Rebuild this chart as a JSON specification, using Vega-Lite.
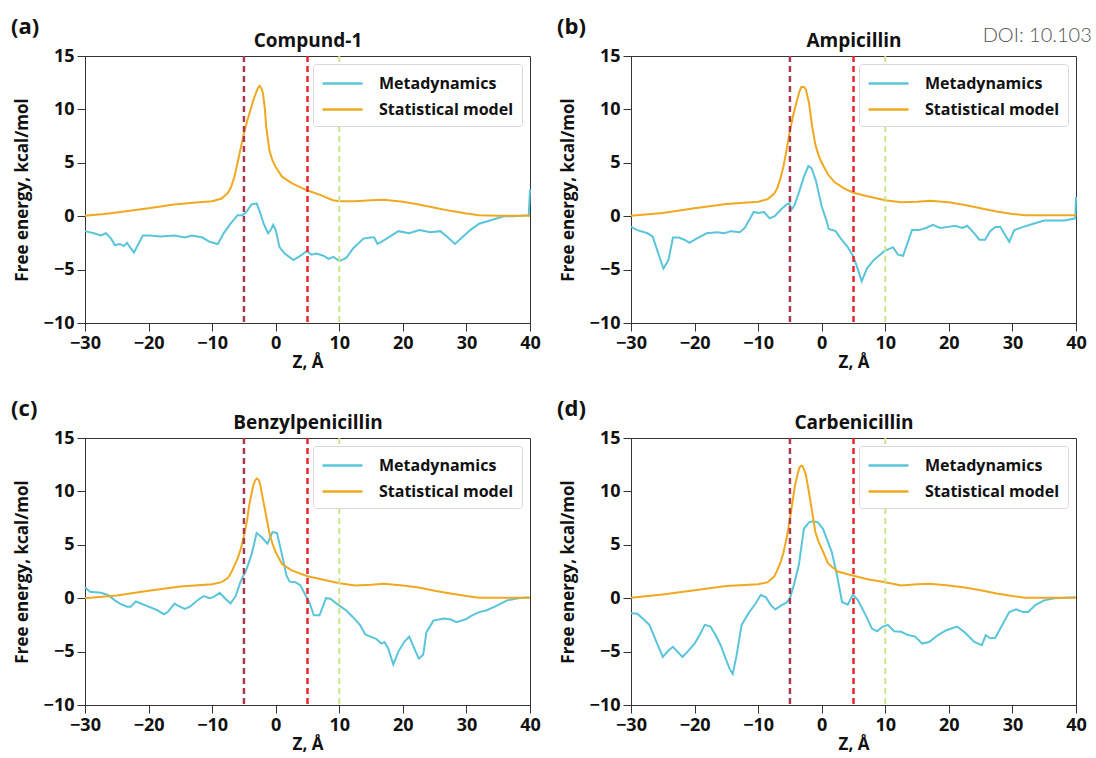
{
  "$schema": "https://vega.github.io/schema/vega-lite/v6.json",
  "background": "white",
  "padding": {"left": 10, "right": 2, "top": 15, "bottom": 0},
  "title": {"text": "DOI: 10.103", "anchor": "end", "fontSize": 20, "fontWeight": 300, "color": "#555", "font": "Lato", "offset": -30, "dx": 5},
  "datasets": {
    "fe": [
      {"p":"a","s":"Metadynamics","z":-30,"g":-1.4},{"p":"a","s":"Metadynamics","z":-28.6,"g":-1.6},{"p":"a","s":"Metadynamics","z":-27.5,"g":-1.8},{"p":"a","s":"Metadynamics","z":-26.7,"g":-1.6},{"p":"a","s":"Metadynamics","z":-25.9,"g":-2.1},{"p":"a","s":"Metadynamics","z":-25.3,"g":-2.7},{"p":"a","s":"Metadynamics","z":-24.5,"g":-2.6},{"p":"a","s":"Metadynamics","z":-23.9,"g":-2.8},{"p":"a","s":"Metadynamics","z":-23.4,"g":-2.5},{"p":"a","s":"Metadynamics","z":-22.3,"g":-3.4},{"p":"a","s":"Metadynamics","z":-20.9,"g":-1.8},{"p":"a","s":"Metadynamics","z":-19.8,"g":-1.8},{"p":"a","s":"Metadynamics","z":-18.1,"g":-1.9},{"p":"a","s":"Metadynamics","z":-15.9,"g":-1.8},{"p":"a","s":"Metadynamics","z":-14.3,"g":-2.0},{"p":"a","s":"Metadynamics","z":-13.2,"g":-1.8},{"p":"a","s":"Metadynamics","z":-11.5,"g":-2.0},{"p":"a","s":"Metadynamics","z":-10.4,"g":-2.4},{"p":"a","s":"Metadynamics","z":-9.1,"g":-2.6},{"p":"a","s":"Metadynamics","z":-8.2,"g":-1.6},{"p":"a","s":"Metadynamics","z":-7.1,"g":-0.7},{"p":"a","s":"Metadynamics","z":-6.0,"g":0.1},{"p":"a","s":"Metadynamics","z":-5.2,"g":0.1},{"p":"a","s":"Metadynamics","z":-4.6,"g":0.4},{"p":"a","s":"Metadynamics","z":-3.8,"g":1.1},{"p":"a","s":"Metadynamics","z":-3.0,"g":1.2},{"p":"a","s":"Metadynamics","z":-2.4,"g":0.25},{"p":"a","s":"Metadynamics","z":-1.9,"g":-0.7},{"p":"a","s":"Metadynamics","z":-1.2,"g":-1.6},{"p":"a","s":"Metadynamics","z":-0.8,"g":-1.3},{"p":"a","s":"Metadynamics","z":-0.4,"g":-0.8},{"p":"a","s":"Metadynamics","z":0.0,"g":-1.3},{"p":"a","s":"Metadynamics","z":0.6,"g":-2.9},{"p":"a","s":"Metadynamics","z":1.4,"g":-3.5},{"p":"a","s":"Metadynamics","z":2.8,"g":-4.1},{"p":"a","s":"Metadynamics","z":3.9,"g":-3.7},{"p":"a","s":"Metadynamics","z":4.9,"g":-3.25},{"p":"a","s":"Metadynamics","z":5.6,"g":-3.6},{"p":"a","s":"Metadynamics","z":6.4,"g":-3.5},{"p":"a","s":"Metadynamics","z":7.5,"g":-3.7},{"p":"a","s":"Metadynamics","z":8.3,"g":-4.0},{"p":"a","s":"Metadynamics","z":9.1,"g":-3.8},{"p":"a","s":"Metadynamics","z":10.0,"g":-4.2},{"p":"a","s":"Metadynamics","z":11.1,"g":-3.9},{"p":"a","s":"Metadynamics","z":12.2,"g":-3.0},{"p":"a","s":"Metadynamics","z":13.8,"g":-2.1},{"p":"a","s":"Metadynamics","z":14.9,"g":-2.0},{"p":"a","s":"Metadynamics","z":15.5,"g":-2.0},{"p":"a","s":"Metadynamics","z":16.0,"g":-2.6},{"p":"a","s":"Metadynamics","z":16.6,"g":-2.4},{"p":"a","s":"Metadynamics","z":17.7,"g":-2.0},{"p":"a","s":"Metadynamics","z":19.3,"g":-1.4},{"p":"a","s":"Metadynamics","z":21.0,"g":-1.6},{"p":"a","s":"Metadynamics","z":22.6,"g":-1.3},{"p":"a","s":"Metadynamics","z":24.3,"g":-1.5},{"p":"a","s":"Metadynamics","z":25.9,"g":-1.4},{"p":"a","s":"Metadynamics","z":27.1,"g":-2.0},{"p":"a","s":"Metadynamics","z":28.2,"g":-2.6},{"p":"a","s":"Metadynamics","z":29.3,"g":-2.0},{"p":"a","s":"Metadynamics","z":30.6,"g":-1.3},{"p":"a","s":"Metadynamics","z":32.0,"g":-0.7},{"p":"a","s":"Metadynamics","z":33.7,"g":-0.4},{"p":"a","s":"Metadynamics","z":35.9,"g":0.0},{"p":"a","s":"Metadynamics","z":37.5,"g":0.0},{"p":"a","s":"Metadynamics","z":39.8,"g":0.1},{"p":"a","s":"Metadynamics","z":40,"g":2.5},

      {"p":"a","s":"Statistical model","z":-30,"g":0.05},{"p":"a","s":"Statistical model","z":-27,"g":0.2},{"p":"a","s":"Statistical model","z":-25,"g":0.35},{"p":"a","s":"Statistical model","z":-20,"g":0.75},{"p":"a","s":"Statistical model","z":-16,"g":1.1},{"p":"a","s":"Statistical model","z":-13,"g":1.25},{"p":"a","s":"Statistical model","z":-10,"g":1.4},{"p":"a","s":"Statistical model","z":-8.5,"g":1.65},{"p":"a","s":"Statistical model","z":-7.5,"g":2.2},{"p":"a","s":"Statistical model","z":-7,"g":2.75},{"p":"a","s":"Statistical model","z":-6.5,"g":3.7},{"p":"a","s":"Statistical model","z":-6,"g":5.0},{"p":"a","s":"Statistical model","z":-5.5,"g":6.4},{"p":"a","s":"Statistical model","z":-5,"g":7.75},{"p":"a","s":"Statistical model","z":-4.5,"g":8.9},{"p":"a","s":"Statistical model","z":-4,"g":9.9},{"p":"a","s":"Statistical model","z":-3.5,"g":10.9},{"p":"a","s":"Statistical model","z":-3,"g":11.7},{"p":"a","s":"Statistical model","z":-2.7,"g":12.1},{"p":"a","s":"Statistical model","z":-2.5,"g":12.2},{"p":"a","s":"Statistical model","z":-2.2,"g":11.9},{"p":"a","s":"Statistical model","z":-2,"g":11.5},{"p":"a","s":"Statistical model","z":-1.7,"g":10.0},{"p":"a","s":"Statistical model","z":-1.5,"g":8.4},{"p":"a","s":"Statistical model","z":-1,"g":6.2},{"p":"a","s":"Statistical model","z":-0.5,"g":5.2},{"p":"a","s":"Statistical model","z":0,"g":4.6},{"p":"a","s":"Statistical model","z":1,"g":3.7},{"p":"a","s":"Statistical model","z":2.5,"g":3.1},{"p":"a","s":"Statistical model","z":5,"g":2.4},{"p":"a","s":"Statistical model","z":7,"g":2.0},{"p":"a","s":"Statistical model","z":9,"g":1.5},{"p":"a","s":"Statistical model","z":10,"g":1.4},{"p":"a","s":"Statistical model","z":12.5,"g":1.4},{"p":"a","s":"Statistical model","z":15,"g":1.5},{"p":"a","s":"Statistical model","z":17,"g":1.55},{"p":"a","s":"Statistical model","z":20,"g":1.35},{"p":"a","s":"Statistical model","z":22.5,"g":1.1},{"p":"a","s":"Statistical model","z":25,"g":0.8},{"p":"a","s":"Statistical model","z":27.5,"g":0.5},{"p":"a","s":"Statistical model","z":30,"g":0.25},{"p":"a","s":"Statistical model","z":32,"g":0.08},{"p":"a","s":"Statistical model","z":35,"g":0.05},{"p":"a","s":"Statistical model","z":40,"g":0.05},

      {"p":"b","s":"Metadynamics","z":-30,"g":-1.0},{"p":"b","s":"Metadynamics","z":-29.0,"g":-1.3},{"p":"b","s":"Metadynamics","z":-27.4,"g":-1.6},{"p":"b","s":"Metadynamics","z":-26.6,"g":-1.9},{"p":"b","s":"Metadynamics","z":-25.7,"g":-3.5},{"p":"b","s":"Metadynamics","z":-24.9,"g":-4.9},{"p":"b","s":"Metadynamics","z":-24.1,"g":-4.1},{"p":"b","s":"Metadynamics","z":-23.4,"g":-2.0},{"p":"b","s":"Metadynamics","z":-22.5,"g":-2.0},{"p":"b","s":"Metadynamics","z":-21.6,"g":-2.2},{"p":"b","s":"Metadynamics","z":-20.8,"g":-2.5},{"p":"b","s":"Metadynamics","z":-19.7,"g":-2.1},{"p":"b","s":"Metadynamics","z":-18.1,"g":-1.6},{"p":"b","s":"Metadynamics","z":-16.4,"g":-1.5},{"p":"b","s":"Metadynamics","z":-15.3,"g":-1.6},{"p":"b","s":"Metadynamics","z":-14.3,"g":-1.4},{"p":"b","s":"Metadynamics","z":-12.9,"g":-1.5},{"p":"b","s":"Metadynamics","z":-12.1,"g":-1.1},{"p":"b","s":"Metadynamics","z":-10.7,"g":0.4},{"p":"b","s":"Metadynamics","z":-9.9,"g":0.3},{"p":"b","s":"Metadynamics","z":-9.1,"g":0.4},{"p":"b","s":"Metadynamics","z":-8.2,"g":-0.2},{"p":"b","s":"Metadynamics","z":-7.4,"g":0.0},{"p":"b","s":"Metadynamics","z":-6.3,"g":0.7},{"p":"b","s":"Metadynamics","z":-5.5,"g":1.1},{"p":"b","s":"Metadynamics","z":-5.1,"g":1.2},{"p":"b","s":"Metadynamics","z":-4.8,"g":0.6},{"p":"b","s":"Metadynamics","z":-4.3,"g":1.0},{"p":"b","s":"Metadynamics","z":-3.6,"g":2.2},{"p":"b","s":"Metadynamics","z":-2.8,"g":3.7},{"p":"b","s":"Metadynamics","z":-2.1,"g":4.7},{"p":"b","s":"Metadynamics","z":-1.6,"g":4.5},{"p":"b","s":"Metadynamics","z":-0.9,"g":3.3},{"p":"b","s":"Metadynamics","z":0.0,"g":0.9},{"p":"b","s":"Metadynamics","z":0.8,"g":-0.5},{"p":"b","s":"Metadynamics","z":1.1,"g":-1.2},{"p":"b","s":"Metadynamics","z":2.2,"g":-1.4},{"p":"b","s":"Metadynamics","z":3.0,"g":-2.1},{"p":"b","s":"Metadynamics","z":4.1,"g":-2.9},{"p":"b","s":"Metadynamics","z":5.0,"g":-3.8},{"p":"b","s":"Metadynamics","z":5.7,"g":-5.0},{"p":"b","s":"Metadynamics","z":6.3,"g":-6.1},{"p":"b","s":"Metadynamics","z":7.1,"g":-4.9},{"p":"b","s":"Metadynamics","z":8.2,"g":-4.1},{"p":"b","s":"Metadynamics","z":9.8,"g":-3.3},{"p":"b","s":"Metadynamics","z":11.2,"g":-2.9},{"p":"b","s":"Metadynamics","z":12.0,"g":-3.6},{"p":"b","s":"Metadynamics","z":12.8,"g":-3.7},{"p":"b","s":"Metadynamics","z":14.2,"g":-1.3},{"p":"b","s":"Metadynamics","z":15.3,"g":-1.3},{"p":"b","s":"Metadynamics","z":16.4,"g":-1.1},{"p":"b","s":"Metadynamics","z":17.5,"g":-0.8},{"p":"b","s":"Metadynamics","z":18.6,"g":-1.1},{"p":"b","s":"Metadynamics","z":19.9,"g":-1.0},{"p":"b","s":"Metadynamics","z":21.0,"g":-0.9},{"p":"b","s":"Metadynamics","z":22.1,"g":-1.1},{"p":"b","s":"Metadynamics","z":22.9,"g":-0.9},{"p":"b","s":"Metadynamics","z":24.0,"g":-1.6},{"p":"b","s":"Metadynamics","z":24.8,"g":-2.2},{"p":"b","s":"Metadynamics","z":25.7,"g":-2.2},{"p":"b","s":"Metadynamics","z":26.5,"g":-1.4},{"p":"b","s":"Metadynamics","z":27.3,"g":-1.0},{"p":"b","s":"Metadynamics","z":28.1,"g":-1.0},{"p":"b","s":"Metadynamics","z":28.9,"g":-1.8},{"p":"b","s":"Metadynamics","z":29.5,"g":-2.4},{"p":"b","s":"Metadynamics","z":30.3,"g":-1.3},{"p":"b","s":"Metadynamics","z":31.7,"g":-1.0},{"p":"b","s":"Metadynamics","z":33.3,"g":-0.7},{"p":"b","s":"Metadynamics","z":35.0,"g":-0.4},{"p":"b","s":"Metadynamics","z":36.6,"g":-0.4},{"p":"b","s":"Metadynamics","z":38.2,"g":-0.4},{"p":"b","s":"Metadynamics","z":39.9,"g":-0.2},{"p":"b","s":"Metadynamics","z":40,"g":1.8},

      {"p":"b","s":"Statistical model","z":-30,"g":0.05},{"p":"b","s":"Statistical model","z":-25,"g":0.3},{"p":"b","s":"Statistical model","z":-20,"g":0.75},{"p":"b","s":"Statistical model","z":-15,"g":1.15},{"p":"b","s":"Statistical model","z":-10,"g":1.35},{"p":"b","s":"Statistical model","z":-8.5,"g":1.6},{"p":"b","s":"Statistical model","z":-7.5,"g":2.1},{"p":"b","s":"Statistical model","z":-7,"g":2.6},{"p":"b","s":"Statistical model","z":-6.5,"g":3.5},{"p":"b","s":"Statistical model","z":-6,"g":4.7},{"p":"b","s":"Statistical model","z":-5.5,"g":6.3},{"p":"b","s":"Statistical model","z":-5,"g":8.0},{"p":"b","s":"Statistical model","z":-4.5,"g":9.4},{"p":"b","s":"Statistical model","z":-4,"g":10.6},{"p":"b","s":"Statistical model","z":-3.5,"g":11.7},{"p":"b","s":"Statistical model","z":-3.2,"g":12.1},{"p":"b","s":"Statistical model","z":-2.8,"g":12.1},{"p":"b","s":"Statistical model","z":-2.5,"g":11.9},{"p":"b","s":"Statistical model","z":-2,"g":10.6},{"p":"b","s":"Statistical model","z":-1.5,"g":8.4},{"p":"b","s":"Statistical model","z":-1,"g":6.7},{"p":"b","s":"Statistical model","z":-0.5,"g":5.7},{"p":"b","s":"Statistical model","z":0,"g":5.0},{"p":"b","s":"Statistical model","z":1,"g":3.9},{"p":"b","s":"Statistical model","z":2,"g":3.2},{"p":"b","s":"Statistical model","z":3.5,"g":2.6},{"p":"b","s":"Statistical model","z":5,"g":2.2},{"p":"b","s":"Statistical model","z":7,"g":1.9},{"p":"b","s":"Statistical model","z":10,"g":1.5},{"p":"b","s":"Statistical model","z":12.5,"g":1.3},{"p":"b","s":"Statistical model","z":15,"g":1.35},{"p":"b","s":"Statistical model","z":17,"g":1.45},{"p":"b","s":"Statistical model","z":20,"g":1.3},{"p":"b","s":"Statistical model","z":22.5,"g":1.05},{"p":"b","s":"Statistical model","z":25,"g":0.75},{"p":"b","s":"Statistical model","z":27.5,"g":0.45},{"p":"b","s":"Statistical model","z":30,"g":0.2},{"p":"b","s":"Statistical model","z":32,"g":0.1},{"p":"b","s":"Statistical model","z":40,"g":0.1},

      {"p":"c","s":"Metadynamics","z":-30,"g":1.0},{"p":"c","s":"Metadynamics","z":-29.2,"g":0.6},{"p":"c","s":"Metadynamics","z":-27.5,"g":0.5},{"p":"c","s":"Metadynamics","z":-26.4,"g":0.3},{"p":"c","s":"Metadynamics","z":-25.3,"g":-0.2},{"p":"c","s":"Metadynamics","z":-24.5,"g":-0.5},{"p":"c","s":"Metadynamics","z":-23.4,"g":-0.8},{"p":"c","s":"Metadynamics","z":-22.8,"g":-0.8},{"p":"c","s":"Metadynamics","z":-22.0,"g":-0.3},{"p":"c","s":"Metadynamics","z":-21.2,"g":-0.5},{"p":"c","s":"Metadynamics","z":-20.4,"g":-0.7},{"p":"c","s":"Metadynamics","z":-18.7,"g":-1.1},{"p":"c","s":"Metadynamics","z":-17.6,"g":-1.5},{"p":"c","s":"Metadynamics","z":-17.0,"g":-1.3},{"p":"c","s":"Metadynamics","z":-15.9,"g":-0.5},{"p":"c","s":"Metadynamics","z":-15.4,"g":-0.7},{"p":"c","s":"Metadynamics","z":-14.3,"g":-1.0},{"p":"c","s":"Metadynamics","z":-13.5,"g":-0.8},{"p":"c","s":"Metadynamics","z":-12.1,"g":-0.1},{"p":"c","s":"Metadynamics","z":-11.3,"g":0.2},{"p":"c","s":"Metadynamics","z":-10.4,"g":0.0},{"p":"c","s":"Metadynamics","z":-9.8,"g":0.1},{"p":"c","s":"Metadynamics","z":-8.8,"g":0.5},{"p":"c","s":"Metadynamics","z":-8.0,"g":0.0},{"p":"c","s":"Metadynamics","z":-7.1,"g":-0.5},{"p":"c","s":"Metadynamics","z":-6.3,"g":0.2},{"p":"c","s":"Metadynamics","z":-5.5,"g":1.6},{"p":"c","s":"Metadynamics","z":-4.6,"g":2.7},{"p":"c","s":"Metadynamics","z":-3.8,"g":4.1},{"p":"c","s":"Metadynamics","z":-3.0,"g":6.1},{"p":"c","s":"Metadynamics","z":-2.2,"g":5.7},{"p":"c","s":"Metadynamics","z":-1.3,"g":5.1},{"p":"c","s":"Metadynamics","z":-0.8,"g":5.8},{"p":"c","s":"Metadynamics","z":-0.5,"g":6.2},{"p":"c","s":"Metadynamics","z":0.2,"g":6.1},{"p":"c","s":"Metadynamics","z":0.9,"g":4.3},{"p":"c","s":"Metadynamics","z":1.7,"g":2.1},{"p":"c","s":"Metadynamics","z":2.2,"g":1.55},{"p":"c","s":"Metadynamics","z":3.1,"g":1.5},{"p":"c","s":"Metadynamics","z":3.9,"g":1.2},{"p":"c","s":"Metadynamics","z":4.7,"g":0.25},{"p":"c","s":"Metadynamics","z":5.3,"g":-0.4},{"p":"c","s":"Metadynamics","z":6.0,"g":-1.6},{"p":"c","s":"Metadynamics","z":6.9,"g":-1.6},{"p":"c","s":"Metadynamics","z":7.9,"g":0.0},{"p":"c","s":"Metadynamics","z":8.6,"g":-0.05},{"p":"c","s":"Metadynamics","z":10.0,"g":-0.7},{"p":"c","s":"Metadynamics","z":11.1,"g":-1.15},{"p":"c","s":"Metadynamics","z":12.2,"g":-1.8},{"p":"c","s":"Metadynamics","z":13.3,"g":-2.55},{"p":"c","s":"Metadynamics","z":14.1,"g":-3.4},{"p":"c","s":"Metadynamics","z":14.9,"g":-3.6},{"p":"c","s":"Metadynamics","z":15.8,"g":-3.8},{"p":"c","s":"Metadynamics","z":16.6,"g":-4.25},{"p":"c","s":"Metadynamics","z":17.1,"g":-4.1},{"p":"c","s":"Metadynamics","z":17.7,"g":-4.7},{"p":"c","s":"Metadynamics","z":18.5,"g":-6.2},{"p":"c","s":"Metadynamics","z":19.3,"g":-5.0},{"p":"c","s":"Metadynamics","z":20.2,"g":-4.1},{"p":"c","s":"Metadynamics","z":21.0,"g":-3.6},{"p":"c","s":"Metadynamics","z":21.8,"g":-4.7},{"p":"c","s":"Metadynamics","z":22.5,"g":-5.65},{"p":"c","s":"Metadynamics","z":23.2,"g":-5.3},{"p":"c","s":"Metadynamics","z":23.7,"g":-3.2},{"p":"c","s":"Metadynamics","z":24.8,"g":-2.1},{"p":"c","s":"Metadynamics","z":26.5,"g":-1.9},{"p":"c","s":"Metadynamics","z":27.6,"g":-2.0},{"p":"c","s":"Metadynamics","z":28.4,"g":-2.25},{"p":"c","s":"Metadynamics","z":29.8,"g":-2.0},{"p":"c","s":"Metadynamics","z":30.9,"g":-1.6},{"p":"c","s":"Metadynamics","z":32.0,"g":-1.3},{"p":"c","s":"Metadynamics","z":33.1,"g":-1.15},{"p":"c","s":"Metadynamics","z":34.8,"g":-0.7},{"p":"c","s":"Metadynamics","z":36.4,"g":-0.2},{"p":"c","s":"Metadynamics","z":38.1,"g":0.0},{"p":"c","s":"Metadynamics","z":39.8,"g":0.1},

      {"p":"c","s":"Statistical model","z":-30,"g":0.0},{"p":"c","s":"Statistical model","z":-25,"g":0.25},{"p":"c","s":"Statistical model","z":-20,"g":0.7},{"p":"c","s":"Statistical model","z":-15,"g":1.1},{"p":"c","s":"Statistical model","z":-10,"g":1.3},{"p":"c","s":"Statistical model","z":-8.5,"g":1.5},{"p":"c","s":"Statistical model","z":-7.5,"g":1.9},{"p":"c","s":"Statistical model","z":-7,"g":2.4},{"p":"c","s":"Statistical model","z":-6,"g":3.7},{"p":"c","s":"Statistical model","z":-5.5,"g":4.6},{"p":"c","s":"Statistical model","z":-5,"g":5.8},{"p":"c","s":"Statistical model","z":-4.5,"g":7.3},{"p":"c","s":"Statistical model","z":-4.2,"g":8.6},{"p":"c","s":"Statistical model","z":-3.8,"g":9.8},{"p":"c","s":"Statistical model","z":-3.5,"g":10.65},{"p":"c","s":"Statistical model","z":-3.2,"g":11.05},{"p":"c","s":"Statistical model","z":-3,"g":11.2},{"p":"c","s":"Statistical model","z":-2.7,"g":11.1},{"p":"c","s":"Statistical model","z":-2.5,"g":10.8},{"p":"c","s":"Statistical model","z":-2,"g":9.25},{"p":"c","s":"Statistical model","z":-1.5,"g":7.7},{"p":"c","s":"Statistical model","z":-1,"g":6.1},{"p":"c","s":"Statistical model","z":-0.5,"g":5.1},{"p":"c","s":"Statistical model","z":0,"g":4.3},{"p":"c","s":"Statistical model","z":1,"g":3.2},{"p":"c","s":"Statistical model","z":2.5,"g":2.6},{"p":"c","s":"Statistical model","z":5,"g":2.05},{"p":"c","s":"Statistical model","z":7,"g":1.8},{"p":"c","s":"Statistical model","z":10,"g":1.4},{"p":"c","s":"Statistical model","z":12.5,"g":1.2},{"p":"c","s":"Statistical model","z":15,"g":1.25},{"p":"c","s":"Statistical model","z":17,"g":1.35},{"p":"c","s":"Statistical model","z":20,"g":1.2},{"p":"c","s":"Statistical model","z":22.5,"g":1.0},{"p":"c","s":"Statistical model","z":25,"g":0.7},{"p":"c","s":"Statistical model","z":27.5,"g":0.45},{"p":"c","s":"Statistical model","z":30,"g":0.2},{"p":"c","s":"Statistical model","z":32,"g":0.05},{"p":"c","s":"Statistical model","z":40,"g":0.05},

      {"p":"d","s":"Metadynamics","z":-30,"g":-1.4},{"p":"d","s":"Metadynamics","z":-29.0,"g":-1.45},{"p":"d","s":"Metadynamics","z":-27.9,"g":-2.05},{"p":"d","s":"Metadynamics","z":-27.1,"g":-2.5},{"p":"d","s":"Metadynamics","z":-26.0,"g":-4.1},{"p":"d","s":"Metadynamics","z":-25.0,"g":-5.5},{"p":"d","s":"Metadynamics","z":-24.1,"g":-4.9},{"p":"d","s":"Metadynamics","z":-23.4,"g":-4.55},{"p":"d","s":"Metadynamics","z":-22.7,"g":-5.0},{"p":"d","s":"Metadynamics","z":-21.9,"g":-5.5},{"p":"d","s":"Metadynamics","z":-21.1,"g":-5.0},{"p":"d","s":"Metadynamics","z":-20.0,"g":-4.25},{"p":"d","s":"Metadynamics","z":-19.2,"g":-3.45},{"p":"d","s":"Metadynamics","z":-18.4,"g":-2.5},{"p":"d","s":"Metadynamics","z":-17.5,"g":-2.65},{"p":"d","s":"Metadynamics","z":-16.7,"g":-3.45},{"p":"d","s":"Metadynamics","z":-15.9,"g":-4.4},{"p":"d","s":"Metadynamics","z":-15.1,"g":-5.65},{"p":"d","s":"Metadynamics","z":-14.5,"g":-6.6},{"p":"d","s":"Metadynamics","z":-14.0,"g":-7.1},{"p":"d","s":"Metadynamics","z":-13.4,"g":-5.4},{"p":"d","s":"Metadynamics","z":-12.6,"g":-2.5},{"p":"d","s":"Metadynamics","z":-11.5,"g":-1.4},{"p":"d","s":"Metadynamics","z":-10.4,"g":-0.5},{"p":"d","s":"Metadynamics","z":-9.6,"g":0.3},{"p":"d","s":"Metadynamics","z":-8.8,"g":0.1},{"p":"d","s":"Metadynamics","z":-8.0,"g":-0.65},{"p":"d","s":"Metadynamics","z":-7.3,"g":-1.05},{"p":"d","s":"Metadynamics","z":-6.3,"g":-0.65},{"p":"d","s":"Metadynamics","z":-5.5,"g":-0.4},{"p":"d","s":"Metadynamics","z":-5.0,"g":0.0},{"p":"d","s":"Metadynamics","z":-4.4,"g":1.2},{"p":"d","s":"Metadynamics","z":-3.6,"g":3.1},{"p":"d","s":"Metadynamics","z":-2.8,"g":6.5},{"p":"d","s":"Metadynamics","z":-2.0,"g":7.1},{"p":"d","s":"Metadynamics","z":-1.4,"g":7.2},{"p":"d","s":"Metadynamics","z":-0.6,"g":7.1},{"p":"d","s":"Metadynamics","z":0.2,"g":6.5},{"p":"d","s":"Metadynamics","z":0.8,"g":5.55},{"p":"d","s":"Metadynamics","z":1.6,"g":4.3},{"p":"d","s":"Metadynamics","z":2.4,"g":2.15},{"p":"d","s":"Metadynamics","z":3.2,"g":-0.35},{"p":"d","s":"Metadynamics","z":4.1,"g":-0.6},{"p":"d","s":"Metadynamics","z":4.9,"g":0.35},{"p":"d","s":"Metadynamics","z":5.7,"g":-0.2},{"p":"d","s":"Metadynamics","z":6.8,"g":-1.45},{"p":"d","s":"Metadynamics","z":7.9,"g":-2.85},{"p":"d","s":"Metadynamics","z":8.7,"g":-3.1},{"p":"d","s":"Metadynamics","z":9.5,"g":-2.7},{"p":"d","s":"Metadynamics","z":10.4,"g":-2.5},{"p":"d","s":"Metadynamics","z":11.4,"g":-3.1},{"p":"d","s":"Metadynamics","z":12.5,"g":-3.15},{"p":"d","s":"Metadynamics","z":13.6,"g":-3.45},{"p":"d","s":"Metadynamics","z":14.7,"g":-3.6},{"p":"d","s":"Metadynamics","z":15.8,"g":-4.25},{"p":"d","s":"Metadynamics","z":16.9,"g":-4.1},{"p":"d","s":"Metadynamics","z":18.3,"g":-3.45},{"p":"d","s":"Metadynamics","z":19.6,"g":-3.0},{"p":"d","s":"Metadynamics","z":21.3,"g":-2.65},{"p":"d","s":"Metadynamics","z":22.4,"g":-3.15},{"p":"d","s":"Metadynamics","z":24.0,"g":-4.1},{"p":"d","s":"Metadynamics","z":25.2,"g":-4.4},{"p":"d","s":"Metadynamics","z":25.8,"g":-3.45},{"p":"d","s":"Metadynamics","z":26.5,"g":-3.75},{"p":"d","s":"Metadynamics","z":27.3,"g":-3.7},{"p":"d","s":"Metadynamics","z":28.4,"g":-2.5},{"p":"d","s":"Metadynamics","z":29.5,"g":-1.3},{"p":"d","s":"Metadynamics","z":30.6,"g":-1.05},{"p":"d","s":"Metadynamics","z":31.7,"g":-1.3},{"p":"d","s":"Metadynamics","z":32.5,"g":-1.3},{"p":"d","s":"Metadynamics","z":33.6,"g":-0.65},{"p":"d","s":"Metadynamics","z":35.0,"g":-0.2},{"p":"d","s":"Metadynamics","z":36.6,"g":0.0},{"p":"d","s":"Metadynamics","z":39.9,"g":0.1},

      {"p":"d","s":"Statistical model","z":-30,"g":0.05},{"p":"d","s":"Statistical model","z":-25,"g":0.35},{"p":"d","s":"Statistical model","z":-20,"g":0.75},{"p":"d","s":"Statistical model","z":-15,"g":1.15},{"p":"d","s":"Statistical model","z":-10,"g":1.3},{"p":"d","s":"Statistical model","z":-8.5,"g":1.5},{"p":"d","s":"Statistical model","z":-7.5,"g":2.0},{"p":"d","s":"Statistical model","z":-7,"g":2.6},{"p":"d","s":"Statistical model","z":-6.5,"g":3.3},{"p":"d","s":"Statistical model","z":-6,"g":4.3},{"p":"d","s":"Statistical model","z":-5.5,"g":5.7},{"p":"d","s":"Statistical model","z":-5,"g":7.4},{"p":"d","s":"Statistical model","z":-4.6,"g":9.0},{"p":"d","s":"Statistical model","z":-4.2,"g":10.55},{"p":"d","s":"Statistical model","z":-3.8,"g":11.6},{"p":"d","s":"Statistical model","z":-3.5,"g":12.25},{"p":"d","s":"Statistical model","z":-3.2,"g":12.4},{"p":"d","s":"Statistical model","z":-3,"g":12.35},{"p":"d","s":"Statistical model","z":-2.5,"g":11.6},{"p":"d","s":"Statistical model","z":-2,"g":9.9},{"p":"d","s":"Statistical model","z":-1.5,"g":8.05},{"p":"d","s":"Statistical model","z":-1,"g":6.2},{"p":"d","s":"Statistical model","z":-0.5,"g":5.3},{"p":"d","s":"Statistical model","z":0,"g":4.65},{"p":"d","s":"Statistical model","z":1,"g":3.25},{"p":"d","s":"Statistical model","z":2.5,"g":2.5},{"p":"d","s":"Statistical model","z":5,"g":2.1},{"p":"d","s":"Statistical model","z":7,"g":1.8},{"p":"d","s":"Statistical model","z":10,"g":1.5},{"p":"d","s":"Statistical model","z":12.5,"g":1.2},{"p":"d","s":"Statistical model","z":15,"g":1.3},{"p":"d","s":"Statistical model","z":17,"g":1.35},{"p":"d","s":"Statistical model","z":20,"g":1.2},{"p":"d","s":"Statistical model","z":22.5,"g":1.0},{"p":"d","s":"Statistical model","z":25,"g":0.75},{"p":"d","s":"Statistical model","z":27.5,"g":0.45},{"p":"d","s":"Statistical model","z":30,"g":0.2},{"p":"d","s":"Statistical model","z":32,"g":0.05},{"p":"d","s":"Statistical model","z":40,"g":0.05}
    ]
  },
  "columns": 2,
  "spacing": {"column": 15, "row": 26},
  "resolve": {"legend": {"color": "independent"}},
  "concat": [
    {
      "width": 445, "height": 267,
      "title": {"text": "(a)", "anchor": "start", "frame": "bounds", "fontSize": 22, "fontWeight": "bold", "color": "#111", "offset": -8, "dx": -2},
      "resolve": {"axis": {"x": "independent"}},
      "layer": [
        {"data": {"name": "fe"}, "transform": [{"filter": "datum.p === 'a'"}], "mark": {"type": "line", "strokeWidth": 2}, "encoding": {"x": {"field": "z", "type": "quantitative", "scale": {"domain": [-30, 40], "nice": false, "zero": false}, "axis": {"title": "Z, Å", "values": [-30, -20, -10, 0, 10, 20, 30, 40]}}, "y": {"field": "g", "type": "quantitative", "scale": {"domain": [-10, 15], "nice": false}, "axis": {"title": "Free energy, kcal/mol", "values": [-10, -5, 0, 5, 10, 15], "titlePadding": 12}}, "color": {"field": "s", "type": "nominal", "scale": {"domain": ["Metadynamics", "Statistical model"], "range": ["#5ac5da", "#f0a820"]}, "legend": {"title": null}}}},
        {"data": {"values": [{}]}, "mark": {"type": "rule", "color": "#a83a50", "strokeDash": [6, 4], "strokeWidth": 2.5}, "encoding": {"x": {"datum": -5, "type": "quantitative", "scale": {"domain": [-30, 40], "nice": false, "zero": false}, "axis": null}}},
        {"data": {"values": [{}]}, "mark": {"type": "rule", "color": "#e8262e", "strokeDash": [6, 4], "strokeWidth": 2.5}, "encoding": {"x": {"datum": 5, "type": "quantitative", "scale": {"domain": [-30, 40], "nice": false, "zero": false}, "axis": null}}},
        {"data": {"values": [{}]}, "mark": {"type": "rule", "color": "#c9e58c", "strokeDash": [6, 4], "strokeWidth": 2}, "encoding": {"x": {"datum": 10, "type": "quantitative", "scale": {"domain": [-30, 40], "nice": false, "zero": false}, "axis": {"orient": "top", "title": "Compund-1", "labels": false, "ticks": false, "domain": false, "titleFontSize": 19, "titlePadding": 6}}}}
      ]
    },
    {
      "width": 445, "height": 267,
      "title": {"text": "(b)", "anchor": "start", "frame": "bounds", "fontSize": 22, "fontWeight": "bold", "color": "#111", "offset": -8, "dx": -2},
      "resolve": {"axis": {"x": "independent"}},
      "layer": [
        {"data": {"name": "fe"}, "transform": [{"filter": "datum.p === 'b'"}], "mark": {"type": "line", "strokeWidth": 2}, "encoding": {"x": {"field": "z", "type": "quantitative", "scale": {"domain": [-30, 40], "nice": false, "zero": false}, "axis": {"title": "Z, Å", "values": [-30, -20, -10, 0, 10, 20, 30, 40]}}, "y": {"field": "g", "type": "quantitative", "scale": {"domain": [-10, 15], "nice": false}, "axis": {"title": "Free energy, kcal/mol", "values": [-10, -5, 0, 5, 10, 15], "titlePadding": 12}}, "color": {"field": "s", "type": "nominal", "scale": {"domain": ["Metadynamics", "Statistical model"], "range": ["#5ac5da", "#f0a820"]}, "legend": {"title": null}}}},
        {"data": {"values": [{}]}, "mark": {"type": "rule", "color": "#a83a50", "strokeDash": [6, 4], "strokeWidth": 2.5}, "encoding": {"x": {"datum": -5, "type": "quantitative", "scale": {"domain": [-30, 40], "nice": false, "zero": false}, "axis": null}}},
        {"data": {"values": [{}]}, "mark": {"type": "rule", "color": "#e8262e", "strokeDash": [6, 4], "strokeWidth": 2.5}, "encoding": {"x": {"datum": 5, "type": "quantitative", "scale": {"domain": [-30, 40], "nice": false, "zero": false}, "axis": null}}},
        {"data": {"values": [{}]}, "mark": {"type": "rule", "color": "#c9e58c", "strokeDash": [6, 4], "strokeWidth": 2}, "encoding": {"x": {"datum": 10, "type": "quantitative", "scale": {"domain": [-30, 40], "nice": false, "zero": false}, "axis": {"orient": "top", "title": "Ampicillin", "labels": false, "ticks": false, "domain": false, "titleFontSize": 19, "titlePadding": 6}}}}
      ]
    },
    {
      "width": 445, "height": 267,
      "title": {"text": "(c)", "anchor": "start", "frame": "bounds", "fontSize": 22, "fontWeight": "bold", "color": "#111", "offset": -8, "dx": -2},
      "resolve": {"axis": {"x": "independent"}},
      "layer": [
        {"data": {"name": "fe"}, "transform": [{"filter": "datum.p === 'c'"}], "mark": {"type": "line", "strokeWidth": 2}, "encoding": {"x": {"field": "z", "type": "quantitative", "scale": {"domain": [-30, 40], "nice": false, "zero": false}, "axis": {"title": "Z, Å", "values": [-30, -20, -10, 0, 10, 20, 30, 40]}}, "y": {"field": "g", "type": "quantitative", "scale": {"domain": [-10, 15], "nice": false}, "axis": {"title": "Free energy, kcal/mol", "values": [-10, -5, 0, 5, 10, 15], "titlePadding": 12}}, "color": {"field": "s", "type": "nominal", "scale": {"domain": ["Metadynamics", "Statistical model"], "range": ["#5ac5da", "#f0a820"]}, "legend": {"title": null}}}},
        {"data": {"values": [{}]}, "mark": {"type": "rule", "color": "#a83a50", "strokeDash": [6, 4], "strokeWidth": 2.5}, "encoding": {"x": {"datum": -5, "type": "quantitative", "scale": {"domain": [-30, 40], "nice": false, "zero": false}, "axis": null}}},
        {"data": {"values": [{}]}, "mark": {"type": "rule", "color": "#e8262e", "strokeDash": [6, 4], "strokeWidth": 2.5}, "encoding": {"x": {"datum": 5, "type": "quantitative", "scale": {"domain": [-30, 40], "nice": false, "zero": false}, "axis": null}}},
        {"data": {"values": [{}]}, "mark": {"type": "rule", "color": "#c9e58c", "strokeDash": [6, 4], "strokeWidth": 2}, "encoding": {"x": {"datum": 10, "type": "quantitative", "scale": {"domain": [-30, 40], "nice": false, "zero": false}, "axis": {"orient": "top", "title": "Benzylpenicillin", "labels": false, "ticks": false, "domain": false, "titleFontSize": 19, "titlePadding": 6}}}}
      ]
    },
    {
      "width": 445, "height": 267,
      "title": {"text": "(d)", "anchor": "start", "frame": "bounds", "fontSize": 22, "fontWeight": "bold", "color": "#111", "offset": -8, "dx": -2},
      "resolve": {"axis": {"x": "independent"}},
      "layer": [
        {"data": {"name": "fe"}, "transform": [{"filter": "datum.p === 'd'"}], "mark": {"type": "line", "strokeWidth": 2}, "encoding": {"x": {"field": "z", "type": "quantitative", "scale": {"domain": [-30, 40], "nice": false, "zero": false}, "axis": {"title": "Z, Å", "values": [-30, -20, -10, 0, 10, 20, 30, 40]}}, "y": {"field": "g", "type": "quantitative", "scale": {"domain": [-10, 15], "nice": false}, "axis": {"title": "Free energy, kcal/mol", "values": [-10, -5, 0, 5, 10, 15], "titlePadding": 12}}, "color": {"field": "s", "type": "nominal", "scale": {"domain": ["Metadynamics", "Statistical model"], "range": ["#5ac5da", "#f0a820"]}, "legend": {"title": null}}}},
        {"data": {"values": [{}]}, "mark": {"type": "rule", "color": "#a83a50", "strokeDash": [6, 4], "strokeWidth": 2.5}, "encoding": {"x": {"datum": -5, "type": "quantitative", "scale": {"domain": [-30, 40], "nice": false, "zero": false}, "axis": null}}},
        {"data": {"values": [{}]}, "mark": {"type": "rule", "color": "#e8262e", "strokeDash": [6, 4], "strokeWidth": 2.5}, "encoding": {"x": {"datum": 5, "type": "quantitative", "scale": {"domain": [-30, 40], "nice": false, "zero": false}, "axis": null}}},
        {"data": {"values": [{}]}, "mark": {"type": "rule", "color": "#c9e58c", "strokeDash": [6, 4], "strokeWidth": 2}, "encoding": {"x": {"datum": 10, "type": "quantitative", "scale": {"domain": [-30, 40], "nice": false, "zero": false}, "axis": {"orient": "top", "title": "Carbenicillin", "labels": false, "ticks": false, "domain": false, "titleFontSize": 19, "titlePadding": 6}}}}
      ]
    }
  ],
  "config": {
    "font": "Open Sans",
    "view": {"stroke": "#333", "strokeWidth": 1},
    "axis": {"grid": false, "labelFlush": false, "labelFont": "Open Sans", "labelFontSize": 18, "labelFontWeight": "bold", "labelColor": "#111", "titleFont": "Open Sans", "titleFontSize": 17, "titleFontWeight": "bold", "titleColor": "#111", "domainColor": "#333", "tickColor": "#333", "tickSize": 8, "labelPadding": 3, "titlePadding": 2},
    "legend": {"orient": "top-right", "offset": 8, "symbolType": "M-1,0H3", "symbolStrokeWidth": 2.5, "symbolSize": 400, "labelFont": "Open Sans", "labelFontSize": 16, "labelFontWeight": "bold", "labelColor": "#111", "labelOffset": 35, "strokeColor": "#d8d8d8", "fillColor": "white", "padding": 8, "cornerRadius": 3, "rowPadding": 6}
  }
}
